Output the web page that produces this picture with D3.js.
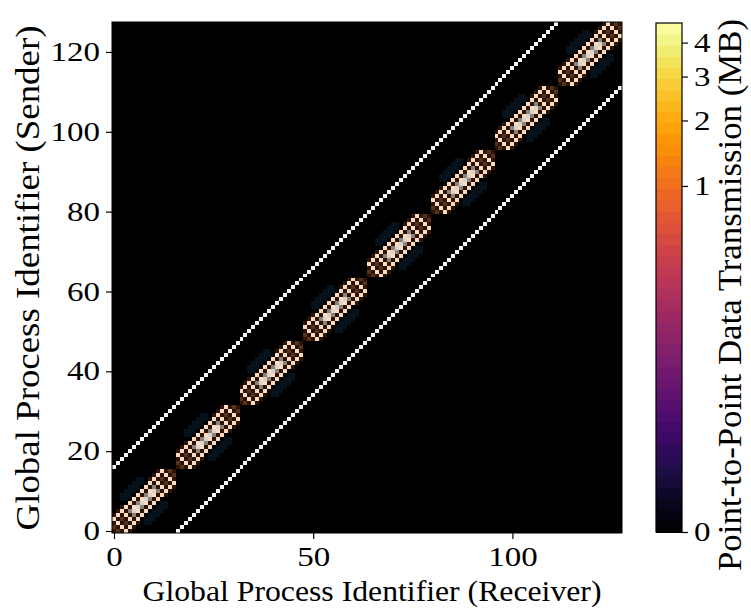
<!DOCTYPE html>
<html>
<head>
<meta charset="utf-8">
<script src="https://cdn.jsdelivr.net/npm/d3@7"></script>
<style>
  body { margin: 0; background: #fff; }
  text { font-family: "Liberation Serif", "DejaVu Serif", serif; fill: #000; }
</style>
</head>
<body>
<svg id="chart" width="751" height="615"></svg>
<script>
// dados
const numProcs = 128;
const blockSize = 16;
const xTicks = [0, 50, 100];
const yTicks = [0, 20, 40, 60, 80, 100, 120];
const cbarTicks = [0, 1, 2, 3, 4];
const cbarMax = 4.68;
const cbarGamma = 0.25;

// padrão de um nó (16x16), linha = emissor local, coluna = receptor local
const nodeTile = [
  "rRrpr...........",
  "Rrprpr..........",
  "rprRrpr.bb......",
  "prRrprp.bbb.....",
  "rprprgrp.bbb....",
  ".rprgGprp.bbb...",
  "..rprpGgrp.bbb..",
  "....prgGprp.bb..",
  "..bb.prpGgrp....",
  "..bbb.prgGprpr..",
  "...bbb.prpGgrpr.",
  "....bbb.prgrprpr",
  ".....bbb.prprRrp",
  "......bb.rprRrpr",
  "..........rprprR",
  "...........rprRr"
];
// vizinhos entre nós
const nodeOffsets = [16, -16];

const levelKeys = [".", "b", "r", "R", "g", "G", "p", "w"];
const levelColors = ["#000000", "#07111b", "#2a1408", "#57311a", "#8c827a", "#d8d2cc", "#fbdabd", "#f4f4f4"];

const svg = d3.select("#chart");
const mLeft = 112, mRight = 622, mTop = 22, mBottom = 533;

const x = d3.scaleLinear().domain([-0.5, numProcs - 0.5]).range([mLeft, mRight]);
const y = d3.scaleLinear().domain([-0.5, numProcs - 0.5]).range([mBottom, mTop]);
const color = d3.scaleOrdinal().domain(levelKeys).range(levelColors);

const cells = [];
for (let b = 0; b < numProcs / blockSize; b++) {
  nodeTile.forEach((row, i) => {
    row.split("").forEach((ch, j) => {
      if (ch !== ".") cells.push({ s: b * blockSize + i, r: b * blockSize + j, lv: ch });
    });
  });
}
for (let s = 0; s < numProcs; s++) {
  nodeOffsets.forEach(off => {
    const r = s + off;
    if (r >= 0 && r < numProcs) cells.push({ s: s, r: r, lv: "w" });
  });
}

const cw = x(1) - x(0);
svg.append("rect")
  .attr("x", mLeft).attr("y", mTop)
  .attr("width", mRight - mLeft).attr("height", mBottom - mTop)
  .attr("fill", "#000");

svg.append("g")
  .attr("shape-rendering", "crispEdges")
  .selectAll("rect")
  .data(cells)
  .enter().append("rect")
  .attr("x", d => x(d.r - 0.5))
  .attr("y", d => y(d.s + 0.5))
  .attr("width", cw)
  .attr("height", cw)
  .attr("fill", d => color(d.lv));

svg.append("rect")
  .attr("x", mLeft).attr("y", mTop)
  .attr("width", mRight - mLeft).attr("height", mBottom - mTop)
  .attr("fill", "none").attr("stroke", "#000").attr("stroke-width", 1);

// eixos
const tickFs = 27;
const digitW = 16.5;
function styleTicks(g) {
  g.select(".domain").remove();
  g.selectAll("line").attr("stroke", "#000").attr("stroke-width", 1.2);
  g.selectAll("text")
    .style("font-size", tickFs + "px")
    .attr("font-family", null)
    .attr("lengthAdjust", "spacingAndGlyphs")
    .attr("textLength", function () { return this.textContent.length * digitW; });
}
const xAxis = svg.append("g")
  .attr("transform", `translate(0,${mBottom})`)
  .call(d3.axisBottom(x).tickValues(xTicks).tickSize(6).tickPadding(8));
const yAxis = svg.append("g")
  .attr("transform", `translate(${mLeft},0)`)
  .call(d3.axisLeft(y).tickValues(yTicks).tickSize(6).tickPadding(6));
styleTicks(xAxis);
styleTicks(yAxis);

svg.append("text")
  .attr("x", 372).attr("y", 601)
  .attr("text-anchor", "middle")
  .attr("textLength", 459).attr("lengthAdjust", "spacingAndGlyphs")
  .style("font-size", "29px")
  .text("Global Process Identifier (Receiver)");

svg.append("text")
  .attr("transform", `translate(39,278) rotate(-90)`)
  .attr("text-anchor", "middle")
  .attr("textLength", 505).attr("lengthAdjust", "spacingAndGlyphs")
  .style("font-size", "33px")
  .text("Global Process Identifier (Sender)");

// barra de cores
const cbX = 656, cbW = 26, cbTop = 23, cbBottom = 532;
const cbScale = d3.scalePow().exponent(cbarGamma).domain([0, cbarMax]).range([cbBottom, cbTop]);
const nBands = 46;
const bands = d3.range(nBands);
svg.append("g")
  .attr("shape-rendering", "crispEdges")
  .selectAll("rect")
  .data(bands)
  .enter().append("rect")
  .attr("x", cbX)
  .attr("y", k => cbBottom - (k + 1) * (cbBottom - cbTop) / nBands)
  .attr("width", cbW)
  .attr("height", (cbBottom - cbTop) / nBands + 0.5)
  .attr("fill", k => d3.interpolateInferno((k + 0.5) / nBands));
svg.append("rect")
  .attr("x", cbX).attr("y", cbTop)
  .attr("width", cbW).attr("height", cbBottom - cbTop)
  .attr("fill", "none").attr("stroke", "#000").attr("stroke-width", 1.2);

const cbAxis = svg.append("g")
  .attr("transform", `translate(${cbX + cbW},0)`)
  .call(d3.axisRight(cbScale).tickValues(cbarTicks).tickFormat(d3.format("d")).tickSize(6).tickPadding(6));
styleTicks(cbAxis);

svg.append("text")
  .attr("transform", `translate(741,295) rotate(-90)`)
  .attr("text-anchor", "middle")
  .attr("textLength", 552).attr("lengthAdjust", "spacingAndGlyphs")
  .style("font-size", "33px")
  .text("Point-to-Point Data Transmission (MB)");
</script>
</body>
</html>
